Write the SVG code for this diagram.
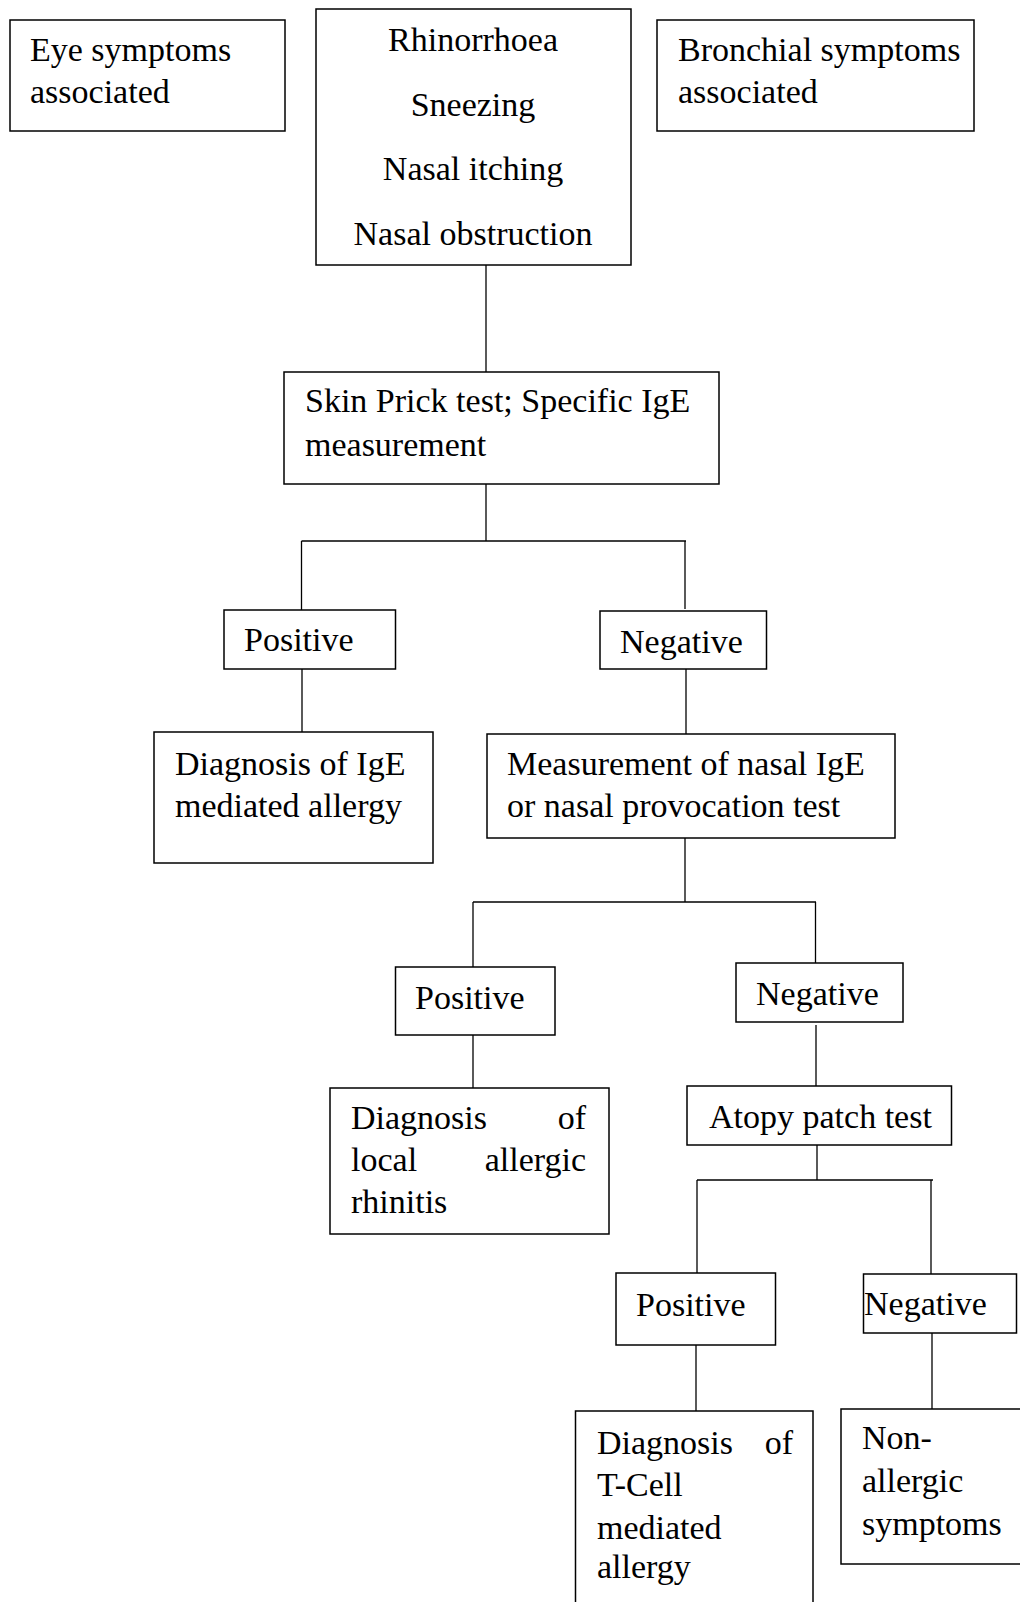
<svg xmlns="http://www.w3.org/2000/svg" width="1020" height="1602" viewBox="0 0 1020 1602">
<style>
.box{fill:#fff;stroke:#000;stroke-width:1.5}
.t{font-family:"Liberation Serif","Times New Roman",serif;font-size:34px;fill:#000}
.c{text-anchor:middle}
.e{text-anchor:end}
#connectors line{stroke:#000;stroke-width:1.3}
</style>
<rect width="1020" height="1602" fill="#fff"/>
<g id="connectors">
<line x1="486" y1="265" x2="486" y2="372"/>
<line x1="486" y1="484" x2="486" y2="541"/>
<line x1="301.5" y1="541" x2="686" y2="541"/>
<line x1="301.5" y1="541" x2="301.5" y2="610"/>
<line x1="685" y1="541" x2="685" y2="609"/>
<line x1="302" y1="669" x2="302" y2="733"/>
<line x1="686" y1="669" x2="686" y2="734"/>
<line x1="685" y1="838" x2="685" y2="902"/>
<line x1="473" y1="902" x2="816" y2="902"/>
<line x1="473" y1="902" x2="473" y2="967"/>
<line x1="815.5" y1="902" x2="815.5" y2="963"/>
<line x1="473" y1="1035" x2="473" y2="1088"/>
<line x1="816" y1="1025" x2="816" y2="1086"/>
<line x1="817" y1="1145" x2="817" y2="1180"/>
<line x1="697" y1="1180" x2="933" y2="1180"/>
<line x1="697" y1="1180" x2="697" y2="1273"/>
<line x1="931" y1="1180" x2="931" y2="1274"/>
<line x1="696" y1="1345" x2="696" y2="1411"/>
<line x1="932" y1="1333" x2="932" y2="1409"/>
</g>
<g id="eye">
<rect class="box" x="10" y="20" width="275" height="111"/>
<text class="t" x="30" y="61">Eye symptoms</text>
<text class="t" x="30" y="103">associated</text>
</g>
<g id="symptoms">
<rect class="box" x="316" y="9" width="315" height="256"/>
<text class="t c" x="473" y="51">Rhinorrhoea</text>
<text class="t c" x="473" y="116">Sneezing</text>
<text class="t c" x="473" y="180">Nasal itching</text>
<text class="t c" x="473" y="245">Nasal obstruction</text>
</g>
<g id="bronchial">
<rect class="box" x="657" y="20" width="317" height="111"/>
<text class="t" x="678" y="61">Bronchial symptoms</text>
<text class="t" x="678" y="103">associated</text>
</g>
<g id="skinprick">
<rect class="box" x="284" y="372" width="435" height="112"/>
<text class="t" x="305" y="412">Skin Prick test; Specific IgE</text>
<text class="t" x="305" y="456">measurement</text>
</g>
<g id="positive1">
<rect class="box" x="224" y="610" width="171.5" height="59"/>
<text class="t" x="244" y="651">Positive</text>
</g>
<g id="negative1">
<rect class="box" x="600" y="611" width="166.5" height="58"/>
<text class="t" x="620" y="653">Negative</text>
</g>
<g id="diag-ige">
<rect class="box" x="154" y="732" width="279" height="131"/>
<text class="t" x="175" y="775">Diagnosis of IgE</text>
<text class="t" x="175" y="817">mediated allergy</text>
</g>
<g id="nasal-ige">
<rect class="box" x="487" y="734" width="408" height="104"/>
<text class="t" x="507" y="775">Measurement of nasal IgE</text>
<text class="t" x="507" y="817">or nasal provocation test</text>
</g>
<g id="positive2">
<rect class="box" x="395.5" y="967" width="159.5" height="68"/>
<text class="t" x="415" y="1009">Positive</text>
</g>
<g id="negative2">
<rect class="box" x="736" y="963" width="167" height="59"/>
<text class="t" x="756" y="1005">Negative</text>
</g>
<g id="local">
<rect class="box" x="330" y="1088" width="279" height="146"/>
<text class="t"><tspan x="351" y="1129">Diagnosis</tspan><tspan class="e" x="586" y="1129">of</tspan></text>
<text class="t"><tspan x="351" y="1171">local</tspan><tspan class="e" x="586" y="1171">allergic</tspan></text>
<text class="t" x="351" y="1213">rhinitis</text>
</g>
<g id="atopy">
<rect class="box" x="687" y="1086" width="264.5" height="59"/>
<text class="t" x="709" y="1128">Atopy patch test</text>
</g>
<g id="positive3">
<rect class="box" x="616" y="1273" width="159.5" height="72"/>
<text class="t" x="636" y="1316">Positive</text>
</g>
<g id="negative3">
<rect class="box" x="863.5" y="1274" width="153" height="59"/>
<text class="t" x="864" y="1315">Negative</text>
</g>
<g id="tcell">
<rect class="box" x="575.5" y="1411" width="237.5" height="210"/>
<text class="t"><tspan x="597" y="1454">Diagnosis</tspan><tspan class="e" x="793" y="1454">of</tspan></text>
<text class="t" x="597" y="1496">T-Cell</text>
<text class="t" x="597" y="1539">mediated</text>
<text class="t" x="597" y="1578">allergy</text>
</g>
<g id="nonallergic">
<rect class="box" x="841" y="1409" width="190" height="155"/>
<text class="t" x="862" y="1449">Non-</text>
<text class="t" x="862" y="1492">allergic</text>
<text class="t" x="862" y="1535">symptoms</text>
</g>
</svg>
